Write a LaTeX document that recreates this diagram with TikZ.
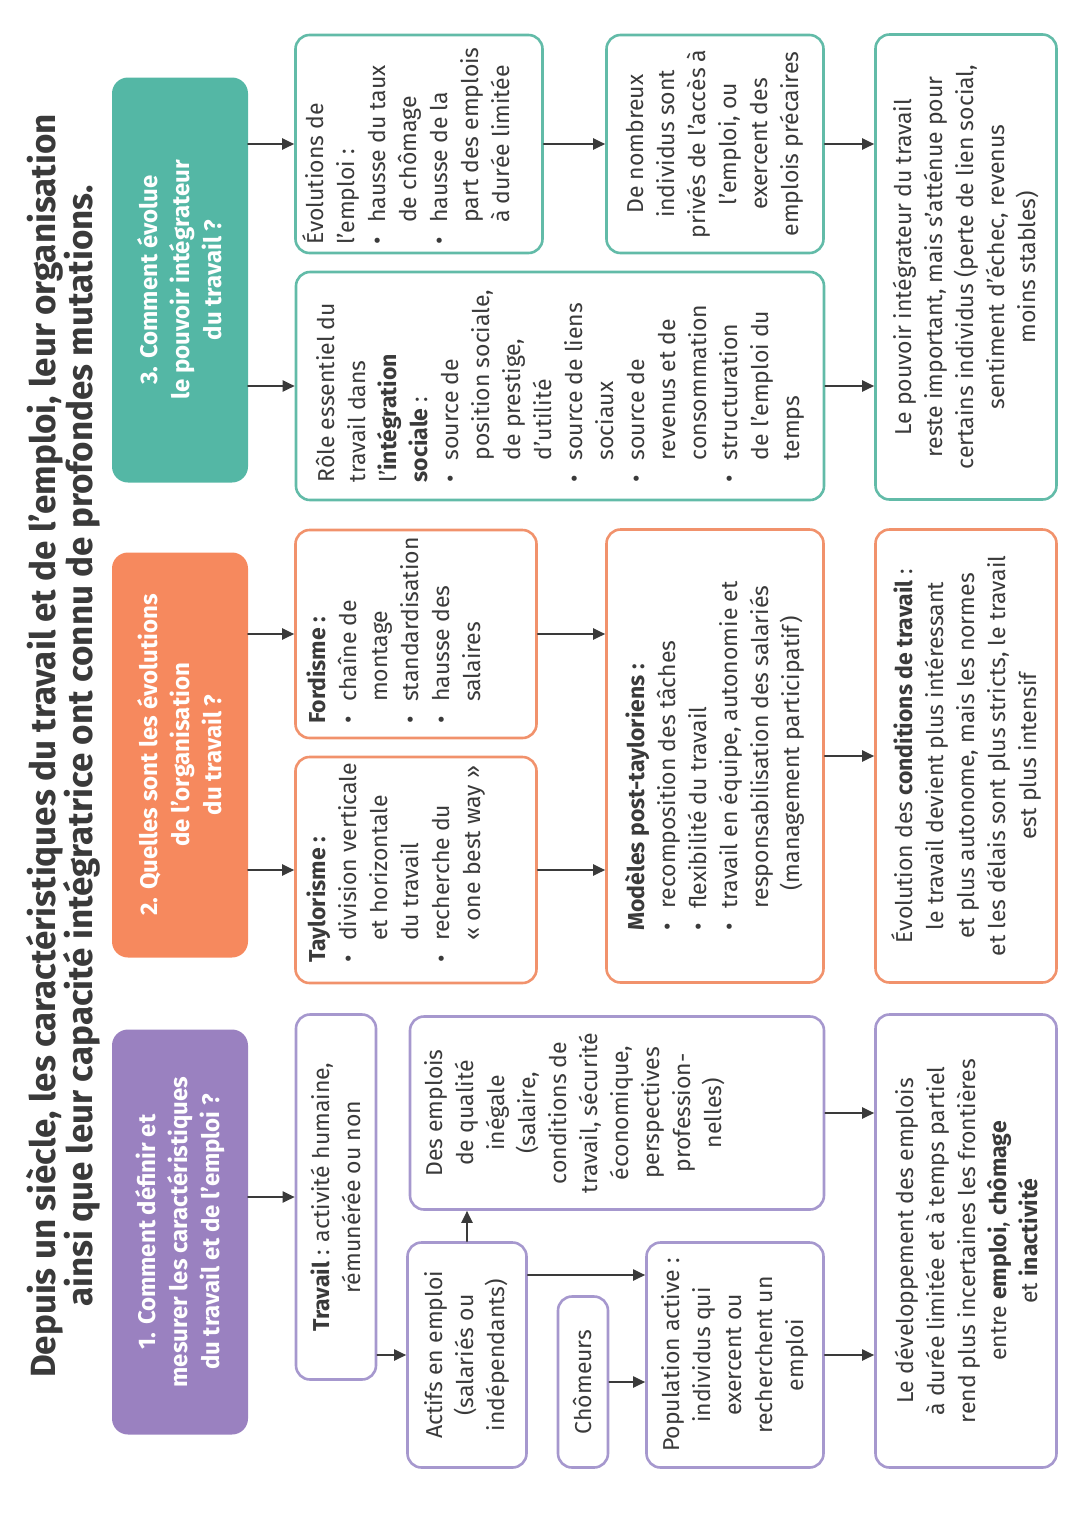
\documentclass[tikz,border=0pt]{standalone}
\usepackage{fontspec}
\setmainfont{Fira Sans}
\usetikzlibrary{arrows.meta}
\definecolor{ink}{RGB}{58,58,58}
\definecolor{qpurple}{RGB}{154,129,192}
\definecolor{qorange}{RGB}{246,137,94}
\definecolor{qteal}{RGB}{84,183,165}
\definecolor{pline}{RGB}{166,152,206}
\definecolor{oline}{RGB}{241,146,108}
\definecolor{tline}{RGB}{98,187,168}
\newcommand{\bul}{\makebox[22pt][l]{\textbullet}}
\newcommand{\hang}{\hspace*{22pt}}

\begin{document}
\begin{tikzpicture}[x=1pt,y=-1pt,line cap=round,line join=round,
  title/.style={rotate=90,align=center,text=ink,inner sep=0pt,font=\fontsize{35}{37}\selectfont\bfseries},
  head/.style={rotate=90,fill=#1,rounded corners=16pt,text=white,align=center,inner sep=0pt,
    minimum width=405pt,minimum height=136pt,font=\fontsize{24}{32}\selectfont\bfseries},
  box/.style={rotate=90,draw=#1,fill=white,line width=2.6pt,rounded corners=14pt,align=center,
    inner sep=0pt,text=ink,font=\fontsize{23}{31}\selectfont},
  txt/.style={rotate=90,inner sep=0pt,text=ink,font=\fontsize{23}{31}\selectfont},
  arr/.style={draw=ink,line width=2pt,-{Triangle[length=12pt,width=11pt]}}]
\useasboundingbox (0,0) rectangle (1080,1527);
\node[title] (ttl) at (63,746) {Depuis un siècle, les caractéristiques du travail et de l'emploi, leur organisation\\ainsi que leur capacité intégratrice ont connu de profondes mutations.};
\node[head=qpurple] (q1) at (180,1232) {1. Comment définir et\\mesurer les caractéristiques\\du travail et de l'emploi~?};
\node[head=qorange] (q2) at (180,755) {2. Quelles sont les évolutions\\de l'organisation\\du travail~?};
\node[head=qteal] (q3) at (180,280) {3. Comment évolue\\le pouvoir intégrateur\\du travail~?};
\node[box=pline,minimum width=365pt,minimum height=80pt] (trav) at (336,1197) {\textbf{Travail} : activité humaine,\\rémunérée ou non};
\node[box=pline,minimum width=193pt,minimum height=414pt] (empl) at (617,1113) {};
\node[txt,anchor=north,align=center] (empltxt) at (424,1113) {Des emplois\\de qualité\\inégale\\(salaire,\\conditions de\\travail, sécurité\\économique,\\perspectives\\profession-\\nelles)};
\node[box=pline,minimum width=225pt,minimum height=119pt] (actif) at (467,1355) {Actifs en emploi\\(salariés ou\\indépendants)};
\node[box=pline,minimum width=171pt,minimum height=50pt] (chom) at (583,1382) {Chômeurs};
\node[box=pline,minimum width=225pt,minimum height=177pt] (popa) at (735,1355) {Population active :\\individus qui\\exercent ou\\recherchent un\\emploi};
\node[box=pline,minimum width=453pt,minimum height=181pt] (bilan1) at (966,1241) {Le développement des emplois\\à durée limitée et à temps partiel\\rend plus incertaines les frontières\\entre \textbf{emploi}, \textbf{chômage}\\et \textbf{inactivité}};
\node[box=oline,minimum width=226pt,minimum height=241pt] (taylor) at (416,870) {};
\node[txt,align=left,anchor=north west] (taylortxt) at (307,963) {\textbf{Taylorisme :}\\\bul division verticale\\\hang et horizontale\\\hang du travail\\\bul recherche du\\\hang « one best way »};
\node[box=oline,minimum width=208pt,minimum height=241pt] (ford) at (416,634) {};
\node[txt,align=left,anchor=north west] (fordtxt) at (307,724) {\textbf{Fordisme :}\\\bul chaîne de\\\hang montage\\\bul standardisation\\\bul hausse des\\\hang salaires};
\node[box=oline,align=left,minimum width=453pt,minimum height=217pt] (postt) at (715,756) {\textbf{Modèles post-tayloriens :}\\\bul recomposition des tâches\\\bul flexibilité du travail\\\bul travail en équipe, autonomie et\\\hang responsabilisation des salariés\\\hang\hspace*{18pt}(management participatif)};
\node[box=oline,minimum width=453pt,minimum height=181pt] (bilan2) at (966,756) {Évolution des \textbf{conditions de travail} :\\le travail devient plus intéressant\\et plus autonome, mais les normes\\et les délais sont plus stricts, le travail\\est plus intensif};
\node[box=tline,align=left,minimum width=228pt,minimum height=528pt] (role) at (560,386) {Rôle essentiel du\\travail dans\\l'\textbf{intégration}\\\textbf{sociale} :\\\bul source de\\\hang position sociale,\\\hang de prestige,\\\hang d'utilité\\\bul source de liens\\\hang sociaux\\\bul source de\\\hang revenus et de\\\hang consommation\\\bul structuration\\\hang de l'emploi du\\\hang temps};
\node[box=tline,minimum width=218pt,minimum height=247pt] (evol) at (419,144) {};
\node[txt,align=left,anchor=north west] (evoltxt) at (302,245) {Évolutions de\\l'emploi :\\\bul hausse du taux\\\hang de chômage\\\bul hausse de la\\\hang part des emplois\\\hang à durée limitée};
\node[box=tline,minimum width=218pt,minimum height=217pt] (nomb) at (715,144) {De nombreux\\individus sont\\privés de l'accès à\\l'emploi, ou\\exercent des\\emplois précaires};
\node[box=tline,minimum width=465pt,minimum height=181pt] (bilan3) at (966,267) {Le pouvoir intégrateur du travail\\reste important, mais s'atténue pour\\certains individus (perte de lien social,\\sentiment d'échec, revenus\\moins stables)};
\draw[arr] (q1.south |- trav.north) -- (trav.north);
\draw[arr] (trav.south |- actif.north) -- (actif.north);
\draw[arr] (actif.east) -- (actif.east |- empl.west);
\draw[arr] (actif.south |- 0,1275) -- (popa.north |- 0,1275);
\draw[arr] (chom.south) -- (popa.north |- chom.south);
\draw[arr] (popa.south) -- (bilan1.north |- popa.south);
\draw[arr] (empl.south) -- (bilan1.north |- empl.south);
\draw[arr] (q2.south |- taylor.north) -- (taylor.north);
\draw[arr] (q2.south |- ford.north) -- (ford.north);
\draw[arr] (taylor.south) -- (postt.north |- taylor.south);
\draw[arr] (ford.south) -- (postt.north |- ford.south);
\draw[arr] (postt.south) -- (bilan2.north |- postt.south);
\draw[arr] (q3.south |- role.north) -- (role.north);
\draw[arr] (q3.south |- evol.north) -- (evol.north);
\draw[arr] (evol.south) -- (nomb.north |- evol.south);
\draw[arr] (nomb.south) -- (bilan3.north |- nomb.south);
\draw[arr] (role.south) -- (bilan3.north |- role.south);
\end{tikzpicture}
\end{document}
